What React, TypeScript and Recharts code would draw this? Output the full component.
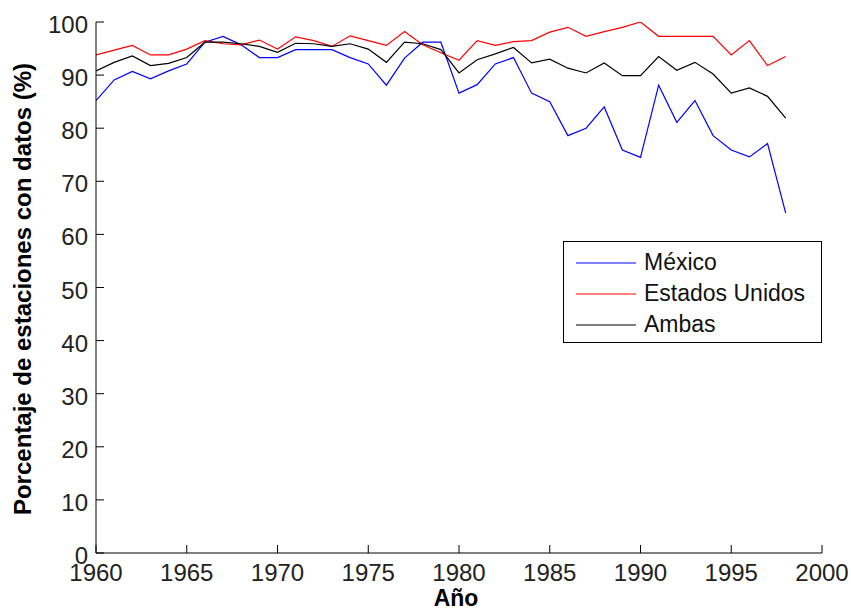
import React from 'react';
import { LineChart, Line, XAxis, YAxis, Legend, Label } from 'recharts';

const years = [
    1960, 1961, 1962, 1963, 1964, 1965, 1966, 1967, 1968, 1969,
    1970, 1971, 1972, 1973, 1974, 1975, 1976, 1977, 1978, 1979,
    1980, 1981, 1982, 1983, 1984, 1985, 1986, 1987, 1988, 1989,
    1990, 1991, 1992, 1993, 1994, 1995, 1996, 1997, 1998
];

const mexico = [
    85.2, 89.1, 90.7, 89.3, 90.8, 92.1, 96.2, 97.3, 95.7, 93.3,
    93.3, 94.8, 94.8, 94.8, 93.3, 92.1, 88.1, 93.2, 96.2, 96.2,
    86.6, 88.2, 92.1, 93.3, 86.6, 85.0, 78.6, 80.0, 84.0, 75.9,
    74.5, 88.1, 81.1, 85.2, 78.6, 75.9, 74.6, 77.1, 64.0
];

const estadosUnidos = [
    93.8, 94.7, 95.6, 93.8, 93.8, 94.9, 96.5, 95.9, 95.7, 96.6,
    94.9, 97.2, 96.5, 95.4, 97.4, 96.5, 95.6, 98.2, 95.7, 94.2,
    92.8, 96.5, 95.6, 96.3, 96.5, 98.1, 99.0, 97.3, 98.2, 99.0,
    100, 97.3, 97.3, 97.3, 97.3, 93.8, 96.5, 91.8, 93.5
];

const ambas = [
    90.8, 92.4, 93.6, 91.8, 92.2, 93.3, 96.2, 96.2, 95.9, 95.4,
    94.3, 96.0, 95.9, 95.4, 95.9, 94.9, 92.4, 96.2, 95.9, 94.8,
    90.4, 92.9, 94.0, 95.2, 92.3, 93.0, 91.3, 90.4, 92.3, 89.9,
    89.9, 93.5, 90.9, 92.4, 90.2, 86.6, 87.6, 86.0, 81.9
];

const xTicks = [1960, 1965, 1970, 1975, 1980, 1985, 1990, 1995, 2000];
const yTicks = [0, 10, 20, 30, 40, 50, 60, 70, 80, 90, 100];

const series = [
    { key: 'mexico', name: 'México', color: '#0000ff' },
    { key: 'eeuu', name: 'Estados Unidos', color: '#ff0000' },
    { key: 'ambas', name: 'Ambas', color: '#000000' }
];

const FONT = '"Liberation Sans", Arial, Helvetica, sans-serif';

const chartData = years.map((year, i) => ({
    year,
    mexico: mexico[i],
    eeuu: estadosUnidos[i],
    ambas: ambas[i]
}));

const XTick = (props: any) => {
    const { x, y, payload } = props;
    return (
        <text x={x} y={y + 17} textAnchor="middle" fontSize={24} fill="#222" fontFamily={FONT}>
            {payload.value}
        </text>
    );
};

const YTick = (props: any) => {
    const { x, y, payload } = props;
    return (
        <text x={x} y={y + 11} textAnchor="end" fontSize={24} fill="#222" fontFamily={FONT}>
            {payload.value}
        </text>
    );
};

const LegendBox = () => (
    <div
        style={{
            width: 259,
            height: 102,
            border: '1px solid #000',
            background: '#fff',
            boxSizing: 'border-box',
            paddingTop: 5,
            fontFamily: FONT,
            fontSize: 23,
            color: '#111'
        }}
    >
        {series.map((s) => (
            <div key={s.key} style={{ display: 'flex', alignItems: 'center', height: 31 }}>
                <svg width={80} height={31} style={{ flex: 'none' }}>
                    <line x1={12} y1={16} x2={72} y2={16} stroke={s.color} strokeWidth={1.2} />
                </svg>
                <span style={{ lineHeight: '31px' }}>{s.name}</span>
            </div>
        ))}
    </div>
);

export default function App() {
    return (
        <div style={{ position: 'absolute', left: 0, top: 0, width: 851, height: 610, background: '#fff' }}>
            <LineChart
                width={851}
                height={610}
                data={chartData}
                margin={{ top: 22, right: 29, bottom: 0, left: 0 }}
            >
                <XAxis
                    dataKey="year"
                    type="number"
                    domain={[1960, 2000]}
                    ticks={xTicks}
                    interval={0}
                    height={57}
                    tickSize={-8}
                    tickMargin={19}
                    tick={<XTick />}
                    stroke="#000"
                    allowDataOverflow
                >
                    <Label
                        content={() => (
                            <text x={456} y={606} textAnchor="middle" fontSize={23} fontWeight="bold" fontFamily={FONT} fill="#000">
                                Año
                            </text>
                        )}
                    />
                </XAxis>
                <XAxis
                    xAxisId="top"
                    orientation="top"
                    dataKey="year"
                    type="number"
                    domain={[1960, 2000]}
                    ticks={xTicks}
                    interval={0}
                    height={0}
                    tickSize={-8}
                    tick={false}
                    stroke="#000"
                    allowDataOverflow
                />
                <YAxis
                    type="number"
                    domain={[0, 100]}
                    ticks={yTicks}
                    interval={0}
                    width={96}
                    tickSize={-8}
                    tickMargin={16}
                    tick={<YTick />}
                    stroke="#000"
                    allowDataOverflow
                >
                    <Label
                        content={() => (
                            <text
                                x={31}
                                y={289}
                                transform="rotate(-90 31 289)"
                                textAnchor="middle"
                                fontSize={24}
                                fontWeight="bold"
                                fontFamily={FONT}
                                fill="#000"
                            >
                                Porcentaje de estaciones con datos (%)
                            </text>
                        )}
                    />
                </YAxis>
                <YAxis
                    yAxisId="right"
                    orientation="right"
                    type="number"
                    domain={[0, 100]}
                    ticks={yTicks}
                    interval={0}
                    width={0}
                    tickSize={-8}
                    tick={false}
                    stroke="#000"
                    allowDataOverflow
                />
                <Legend
                    layout="vertical"
                    align="center"
                    verticalAlign="middle"
                    content={<LegendBox />}
                    wrapperStyle={{ left: 563, top: 241, width: 259 }}
                />
                {series.map((s) => (
                    <Line
                        key={s.key}
                        type="linear"
                        dataKey={s.key}
                        name={s.name}
                        stroke={s.color}
                        strokeWidth={1.2}
                        dot={false}
                        activeDot={false}
                        isAnimationActive={false}
                    />
                ))}
            </LineChart>
        </div>
    );
}
